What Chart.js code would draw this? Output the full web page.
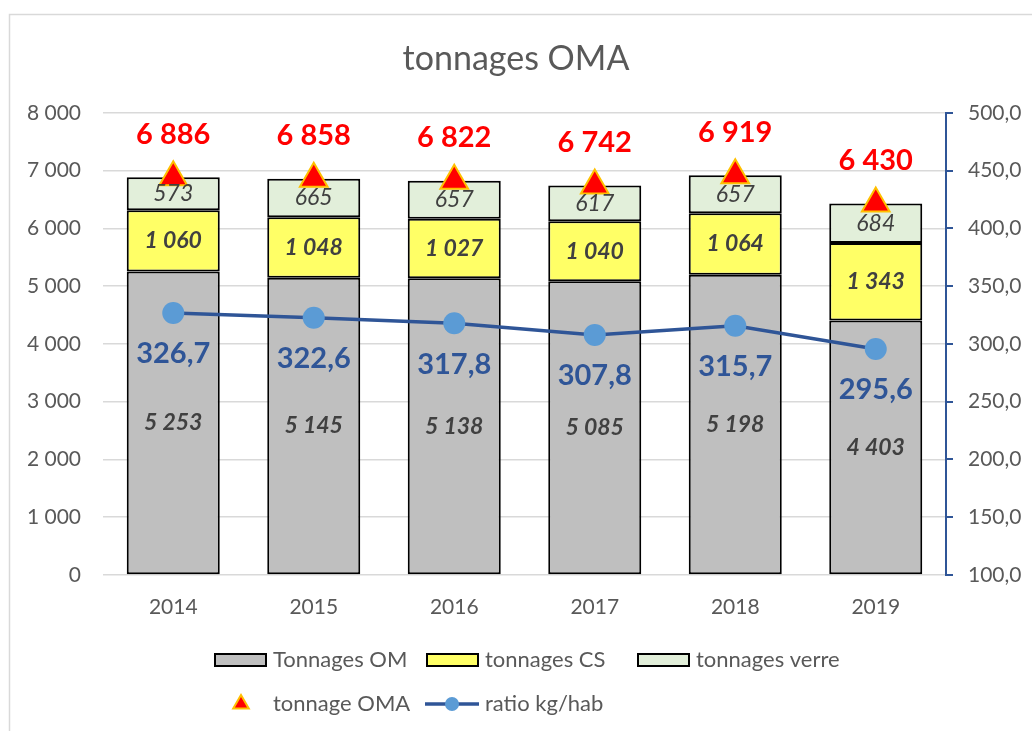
<!DOCTYPE html>
<html>
<head>
<meta charset="utf-8">
<script src="https://cdn.jsdelivr.net/npm/chart.js@4.4.1/dist/chart.umd.min.js"></script>
<style>
  body { margin: 0; background: #fff; }
  canvas { display: block; }
</style>
</head>
<body>
<canvas id="chart" width="1032" height="731"></canvas>
<script>
const years = ["2014", "2015", "2016", "2017", "2018", "2019"];
const tonnagesOM = [5253, 5145, 5138, 5085, 5198, 4403];
const tonnagesCS = [1060, 1048, 1027, 1040, 1064, 1343];
const tonnagesVerre = [573, 665, 657, 617, 657, 684];
const tonnageOMA = [6886, 6858, 6822, 6742, 6919, 6430];
const ratioKgHab = [326.7, 322.6, 317.8, 307.8, 315.7, 295.6];

const FONT = "Lato, 'Open Sans', sans-serif";
const GREY = "#595959";
const BLUE = "#2F5597";

// "5 253" style thousands
const fmtInt = v => String(Math.round(v)).replace(/\B(?=(\d{3})+(?!\d))/g, " ");
const fmtDec = v => v.toFixed(1).replace(".", ",");

Chart.defaults.font.family = FONT;
Chart.defaults.color = GREY;

// light grey chart frame, like the Excel chart border
const frame = {
  id: "frame",
  beforeDraw(chart) {
    const ctx = chart.ctx;
    ctx.save();
    ctx.fillStyle = "#fff";
    ctx.fillRect(0, 0, chart.width, chart.height);
    ctx.strokeStyle = "#D9D9D9";
    ctx.lineWidth = 1.5;
    ctx.strokeRect(9.5, 14.5, chart.width + 20, chart.height + 20);
    ctx.restore();
  }
};

const valueLabels = {
  id: "valueLabels",
  afterDatasetsDraw(chart) {
    const ctx = chart.ctx;
    ctx.save();
    ctx.textAlign = "center";
    ctx.textBaseline = "middle";
    chart.data.datasets.forEach((ds, i) => {
      const lbl = ds.valueLabel;
      if (!lbl) return;
      const meta = chart.getDatasetMeta(i);
      ctx.font = lbl.font;
      ctx.fillStyle = lbl.color;
      meta.data.forEach((el, j) => {
        let y = el.y + (lbl.dy || 0);
        if (lbl.center) y = (el.y + el.base) / 2;
        ctx.fillText(lbl.format(ds.data[j]), el.x, y);
      });
    });
    ctx.restore();
  }
};

// legend laid out in Excel-like columns
const legendSlots = [
  { x: 215, y: 660 }, { x: 427, y: 660 }, { x: 638, y: 660 },
  { x: 215, y: 704 }, { x: 427, y: 704 }
];
const excelLegend = {
  id: "excelLegend",
  afterDraw(chart) {
    const ctx = chart.ctx;
    ctx.save();
    ctx.font = "22px " + FONT;
    ctx.textBaseline = "middle";
    ctx.textAlign = "left";
    chart.data.datasets.forEach((ds, i) => {
      const s = legendSlots[i];
      if (ds.type === "bar") {
        ctx.fillStyle = ds.backgroundColor;
        ctx.fillRect(s.x, s.y - 6, 51, 12);
        ctx.strokeStyle = "#000";
        ctx.lineWidth = 2;
        ctx.strokeRect(s.x, s.y - 6, 51, 12);
      } else if (ds.pointStyle === "triangle") {
        const cx = s.x + 26, r = 9;
        ctx.beginPath();
        ctx.moveTo(cx, s.y - r);
        ctx.lineTo(cx + r * 0.866, s.y + r / 2);
        ctx.lineTo(cx - r * 0.866, s.y + r / 2);
        ctx.closePath();
        ctx.fillStyle = ds.pointBackgroundColor;
        ctx.fill();
        ctx.strokeStyle = ds.pointBorderColor;
        ctx.lineWidth = 2;
        ctx.stroke();
      } else {
        ctx.strokeStyle = ds.borderColor;
        ctx.lineWidth = 3.5;
        ctx.beginPath();
        ctx.moveTo(s.x - 2, s.y);
        ctx.lineTo(s.x + 52, s.y);
        ctx.stroke();
        ctx.fillStyle = ds.pointBackgroundColor;
        ctx.beginPath();
        ctx.arc(s.x + 25, s.y, 7, 0, Math.PI * 2);
        ctx.fill();
      }
      ctx.fillStyle = GREY;
      ctx.fillText(ds.label, s.x + 58, s.y);
    });
    ctx.restore();
  }
};

const barBase = {
  type: "bar",
  yAxisID: "y",
  stack: "tonnes",
  borderColor: "#000",
  borderWidth: 2,
  borderSkipped: false,
  categoryPercentage: 0.662,
  barPercentage: 1,
  order: 2
};

new Chart(document.getElementById("chart"), {
  data: {
    labels: years,
    datasets: [
      {
        ...barBase,
        label: "Tonnages OM",
        data: tonnagesOM,
        backgroundColor: "#BFBFBF",
        valueLabel: { center: true, font: "italic bold 23px " + FONT, color: "#404040", format: fmtInt }
      },
      {
        ...barBase,
        label: "tonnages CS",
        data: tonnagesCS,
        backgroundColor: "#FFFF66",
        valueLabel: { center: true, font: "italic bold 23px " + FONT, color: "#404040", format: fmtInt }
      },
      {
        ...barBase,
        label: "tonnages verre",
        data: tonnagesVerre,
        backgroundColor: "#E2EFDA",
        valueLabel: { center: true, font: "italic 23px " + FONT, color: "#404040", format: fmtInt }
      },
      {
        type: "line",
        label: "tonnage OMA",
        data: tonnageOMA,
        yAxisID: "y",
        stack: "oma",
        showLine: false,
        pointStyle: "triangle",
        pointRadius: 16,
        pointBackgroundColor: "#FF0000",
        pointBorderColor: "#FFC000",
        pointBorderWidth: 2,
        order: 1,
        valueLabel: { dy: -43, font: "bold 29px " + FONT, color: "#FF0000", format: fmtInt }
      },
      {
        type: "line",
        label: "ratio kg/hab",
        data: ratioKgHab,
        yAxisID: "y1",
        borderColor: BLUE,
        borderWidth: 3.5,
        pointRadius: 11,
        pointBackgroundColor: "#5B9BD5",
        pointBorderColor: "#5B9BD5",
        pointBorderWidth: 0,
        tension: 0,
        order: 0,
        valueLabel: { dy: 41, font: "bold 29px " + FONT, color: BLUE, format: fmtDec }
      }
    ]
  },
  options: {
    responsive: false,
    animation: false,
    layout: { padding: 0 },
    plugins: {
      legend: { display: false },
      tooltip: { enabled: false },
      title: {
        display: true,
        text: "tonnages OMA",
        color: GREY,
        font: { size: 34, weight: "normal" },
        padding: { top: 39, bottom: 33 }
      }
    },
    scales: {
      x: {
        stacked: true,
        grid: { display: false },
        border: { display: false },
        ticks: { padding: 12, color: GREY, font: { size: 21 } },
        afterFit: s => { s.height = 156; }
      },
      y: {
        stacked: true,
        position: "left",
        min: 0,
        max: 8000,
        grid: { color: "#D9D9D9", lineWidth: 1.5, drawTicks: false },
        border: { display: false },
        ticks: { stepSize: 1000, padding: 22, color: GREY, font: { size: 21 }, callback: v => fmtInt(v) },
        afterFit: s => { s.width = 103; }
      },
      y1: {
        position: "right",
        min: 100,
        max: 500,
        grid: { drawOnChartArea: false, color: BLUE, lineWidth: 2, tickLength: 7 },
        border: { color: BLUE, width: 2 },
        ticks: { stepSize: 50, padding: 15, color: GREY, font: { size: 21 }, callback: v => fmtDec(v) },
        afterFit: s => { s.width = 86; }
      }
    }
  },
  plugins: [frame, valueLabels, excelLegend]
});
</script>
</body>
</html>
